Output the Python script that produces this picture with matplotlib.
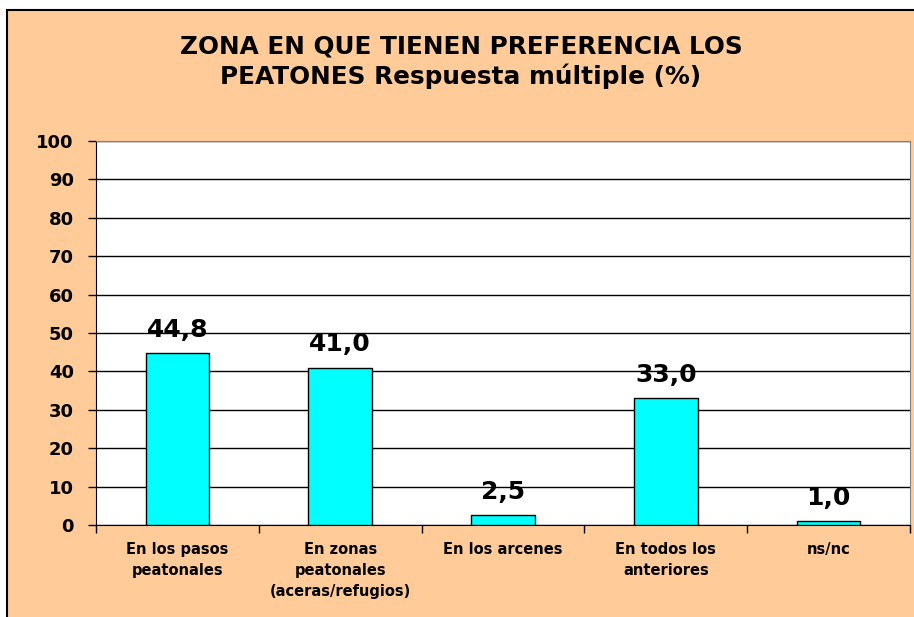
import numpy as np
import matplotlib.pyplot as plt
from matplotlib.patches import Rectangle

# datos del grafico
categorias = ['En los pasos\npeatonales', 'En zonas\npeatonales\n(aceras/refugios)',
              'En los arcenes', 'En todos los\nanteriores', 'ns/nc']
valores = [44.8, 41.0, 2.5, 33.0, 1.0]
etiquetas = ['44,8', '41,0', '2,5', '33,0', '1,0']
y_ticks = [0, 10, 20, 30, 40, 50, 60, 70, 80, 90, 100]

W, H = 914, 617
fig = plt.figure(figsize=(W / 100, H / 100), dpi=100)
fig.patch.set_facecolor('white')

# fondo melocoton con marco
fig.patches.append(Rectangle((7 / W, -0.01), 1, 1.01 - 10 / H, transform=fig.transFigure,
                             facecolor='#FFCC99', edgecolor='black', linewidth=1.5, zorder=-5))

ax = fig.add_axes([96 / W, 1 - 525 / H, (910 - 96) / W, (525 - 141) / H])
ax.set_facecolor('white')

x = np.arange(len(valores))
ax.bar(x, valores, width=0.39, color='#00FFFF', edgecolor='black', linewidth=1, zorder=3)

for xi, v, t in zip(x, valores, etiquetas):
    ax.text(xi, v + 4.2, t, ha='center', va='baseline', fontsize=18, fontweight='bold',
            family='DejaVu Sans')

ax.set_xlim(-0.5, len(valores) - 0.5)
ax.set_ylim(0, 100)
ax.set_yticks(y_ticks)
ax.set_yticklabels([str(t) for t in y_ticks], fontsize=13, fontweight='bold')
ax.yaxis.grid(True, color='black', linewidth=1, zorder=1)
ax.set_axisbelow(True)

# ticks del eje x entre categorias
ax.set_xticks(np.arange(-0.5, len(valores), 1.0))
ax.set_xticklabels([])
ax.set_xticks(x, minor=True)
ax.set_xticklabels(categorias, minor=True, fontsize=10.5, fontweight='bold',
                   family='DejaVu Sans', linespacing=1.5)
ax.tick_params(axis='x', which='minor', length=0, pad=12)
ax.tick_params(axis='x', which='major', length=6, width=1, direction='out')
ax.tick_params(axis='y', length=6, width=1, direction='out', pad=10)
for lab in ax.get_xticklabels(minor=True):
    lab.set_verticalalignment('top')

ax.spines['left'].set_color('black')
ax.spines['bottom'].set_color('black')
ax.spines['top'].set_color('#808080')
ax.spines['right'].set_color('#808080')

fig.text(461 / W, 1 - 62 / H, 'ZONA EN QUE TIENEN PREFERENCIA LOS\nPEATONES Respuesta múltiple (%)',
         ha='center', va='center', fontsize=17.8, fontweight='bold', family='DejaVu Sans',
         linespacing=1.25)

fig.savefig('out.png', dpi=100, facecolor=fig.get_facecolor())
